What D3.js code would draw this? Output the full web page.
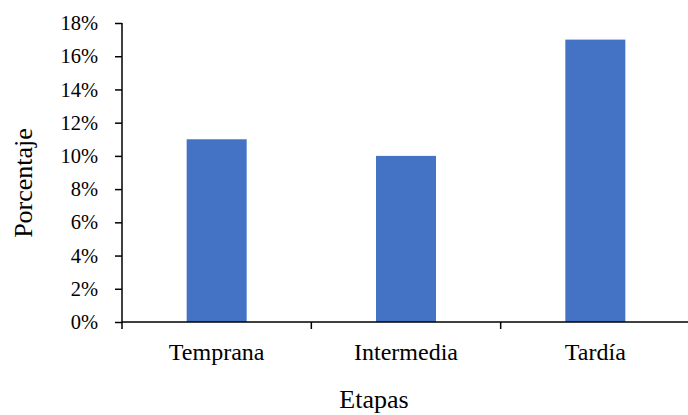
<!DOCTYPE html>
<html><head><meta charset="utf-8">
<script src="https://cdn.jsdelivr.net/npm/d3@7"></script>
<style>body{margin:0;background:#fff}svg{display:block}text{font-family:"Liberation Serif","Times New Roman",serif;fill:#000}</style>
</head><body>
<script>
const categories = ["Temprana", "Intermedia", "Tardía"];
const values = [0.11, 0.10, 0.17];
const yTicks = [0, 0.02, 0.04, 0.06, 0.08, 0.10, 0.12, 0.14, 0.16, 0.18];
const xTitle = "Etapas";
const yTitle = "Porcentaje";

const W = 688, H = 415;
const mLeft = 122, mRight = 690, mTop = 23, mBottom = 322;

const svg = d3.select("body").append("svg").attr("width", W).attr("height", H);

const x = d3.scaleBand().domain(categories).range([mLeft, mRight]).paddingInner(0.683).paddingOuter(0.3415);
const y = d3.scaleLinear().domain([0, 0.18]).range([mBottom, mTop]);

svg.selectAll("rect.bar").data(values).enter().append("rect")
  .attr("class", "bar")
  .attr("x", (d, i) => x(categories[i]))
  .attr("width", x.bandwidth())
  .attr("y", d => y(d))
  .attr("height", d => y(0) - y(d))
  .attr("fill", "#4472C4");

// Y axis
const yAxis = svg.append("g").attr("transform", `translate(${mLeft},0)`)
  .call(d3.axisLeft(y).tickValues(yTicks).tickFormat(d3.format(".0%")).tickSize(7).tickPadding(17));
yAxis.attr("font-family", null).attr("font-size", null);
yAxis.select(".domain").attr("stroke", "#000").attr("stroke-width", 1.5).attr("d", `M0,${mTop}V${mBottom}`);
yAxis.selectAll(".tick line").attr("stroke", "#000").attr("stroke-width", 1.5);
yAxis.selectAll(".tick text").style("font-size", "20.5px");

// X axis
const step = x.step();
const boundaries = d3.range(categories.length + 1).map(i => mLeft + i * step);
const xAxis = svg.append("g");
xAxis.append("line").attr("x1", mLeft).attr("x2", mRight).attr("y1", mBottom).attr("y2", mBottom)
  .attr("stroke", "#000").attr("stroke-width", 1.5);
xAxis.selectAll("line.tk").data(boundaries).enter().append("line").attr("class", "tk")
  .attr("x1", d => d).attr("x2", d => d).attr("y1", mBottom).attr("y2", mBottom + 7)
  .attr("stroke", "#000").attr("stroke-width", 1.5);
xAxis.selectAll("text").data(categories).enter().append("text")
  .attr("x", d => x(d) + x.bandwidth() / 2).attr("y", 360)
  .attr("text-anchor", "middle").style("font-size", "24px")
  .text(d => d);

svg.append("text").attr("x", 374).attr("y", 408).attr("text-anchor", "middle")
  .style("font-size", "26px").text(xTitle);
svg.append("text").attr("transform", "translate(32,183) rotate(-90)").attr("text-anchor", "middle")
  .style("font-size", "26px").text(yTitle);
</script>
</body></html>
